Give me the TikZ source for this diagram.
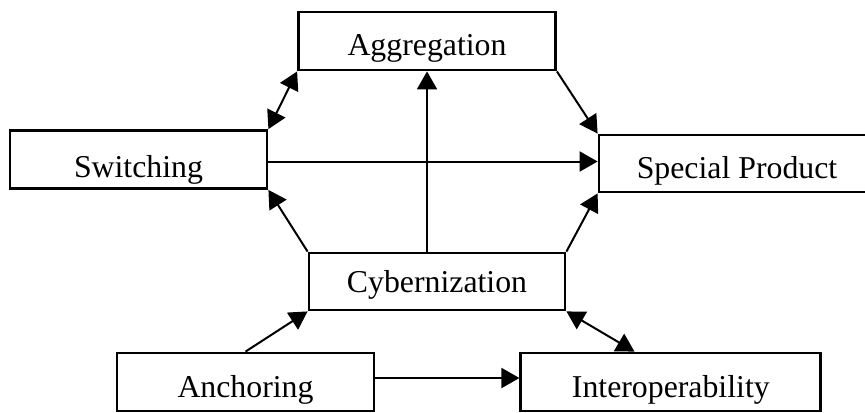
\documentclass[tikz,border=0pt]{standalone}
\usepackage{fontspec}
\setmainfont{Liberation Serif}
\usetikzlibrary{positioning,calc,arrows.meta}

\tikzset{
  block/.style={draw, line width=1.4pt, minimum width=128.5pt, minimum height=29pt,
    inner sep=0pt, text depth=3.4pt, font=\fontsize{15.9}{19}\selectfont},
  link/.style={line width=1pt, -{Triangle[length=9pt,width=10pt]}},
  both/.style={line width=1pt, {Triangle[length=9pt,width=10pt]}-{Triangle[length=9pt,width=10pt]}},
}

\begin{document}
\begin{tikzpicture}[x=0.5pt, y=-0.5pt]
  \useasboundingbox (0,0) rectangle (865,412);
  \clip (0,0) rectangle (865,412);
  % boxes
  \node[block, text height=17.4pt] (aggr) at (427,41) {Aggregation};
  \node[block, text height=21pt] (switching) at (138.5,159.5) {Switching};
  \node[block, minimum width=138pt, minimum height=28.5pt, text height=18pt] (special) at (737,163.5) {Special Product};
  \node[block, minimum width=128pt, minimum height=28.5pt, text height=14pt] (cyber) at (437,281.5) {Cybernization};
  \node[block, text height=18.5pt] (anchoring) at (245.5,382) {Anchoring};
  \node[block, minimum width=150pt, text height=18.5pt, right=72pt of anchoring] (interop) {Interoperability};
  %
  \draw[both] (switching.north east) -- (aggr.south west);
  \draw[link] (aggr.south east) -- (special.north west);
  \draw[link] ($(switching.east)+(0,2)$) -- ($(switching.east -| special.west)+(0,2)$);
  \draw[link] (cyber.north -| aggr.south) -- (aggr.south);
  \draw[link] (cyber.north west) -- (switching.south east);
  \draw[link] (cyber.north east) -- (special.south west);
  \draw[link] (anchoring.north) -- (cyber.south west);
  \draw[both] (cyber.south east) -- ($(interop.north west)!0.38!(interop.north east)$);
  \draw[link] ($(anchoring.east)+(0,-4)$) -- ($(anchoring.east -| interop.west)+(0,-4)$);
\end{tikzpicture}
\end{document}
